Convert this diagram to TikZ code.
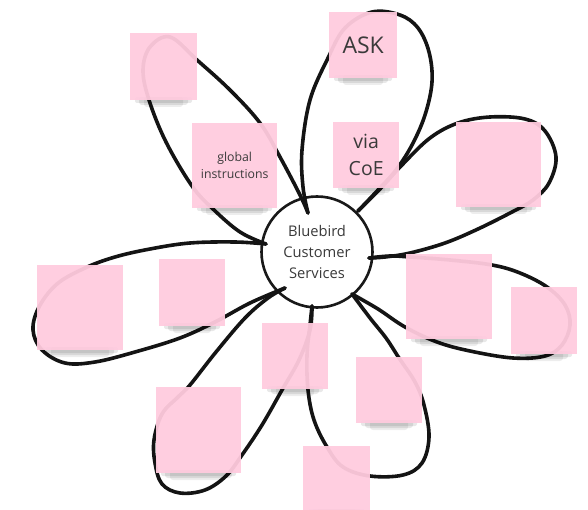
\documentclass[tikz,border=0pt]{standalone}
\usepackage{fontspec}
\setmainfont{Open Sans}
\usetikzlibrary{calc}
\definecolor{notepink}{RGB}{255,203,222}
\definecolor{inkgray}{RGB}{58,58,58}
\tikzset{
  loopline/.style={line width=3.6pt, line cap=round, line join=round, draw=black!92},
  notebox/.style={fill=notepink, fill opacity=0.95, text opacity=1, inner sep=0pt,
    anchor=north west, text=inkgray, align=center},
  hubcircle/.style={circle, draw=black!90, line width=2.6pt, fill=white,
    minimum size=111pt, inner sep=0pt, align=center, text=inkgray,
    font=\fontsize{14.7}{21}\selectfont},
}
% sticky note: name, left, top, width, height, font, contents
\newcommand{\stickynote}[7]{%
  \fill[black, opacity=0.09, rounded corners=2pt] ({#2+5},{#3+#5-3}) rectangle ({#2+#4-5},{#3+#5+3});
  \fill[black, opacity=0.09, rounded corners=3pt] ({#2+9},{#3+#5-3}) rectangle ({#2+#4-9},{#3+#5+5});
  \fill[black, opacity=0.07, rounded corners=3pt] ({#2+14},{#3+#5-3}) rectangle ({#2+#4-14},{#3+#5+7});
  \node[notebox, minimum width=#4pt, minimum height=#5pt, font=#6] (#1) at (#2,#3) {#7};
}
\begin{document}
\begin{tikzpicture}[x=1pt,y=-1pt]
\useasboundingbox (0,0) rectangle (588,510);

% central topic
\node[hubcircle] (hub) at (317,252) {Bluebird\\Customer\\Services};

% where the petals meet the hub
\coordinate (hW)  at (266,244);
\coordinate (hN)  at (308,213);
\coordinate (hNE) at (358,211);
\coordinate (hE)  at (369,258);
\coordinate (hSE) at (352,294);
\coordinate (hS)  at (312,306);
\coordinate (hSW) at (285,288);

% petal loops
\draw[loopline] plot[smooth, tension=0.6] coordinates {(hW) (240,232) (213,209) (192,186) (166,142) (149,100) (143,70) (150,47) (170,37) (197,60) (230,90) (260,123) (280,157) (300,195) (hN)};
\draw[loopline] plot[smooth, tension=0.6] coordinates {(hN) (303,187) (302,150) (310,100) (328,58) (345,28) (372,12) (400,15) (418,28) (429,52) (432,82) (425,115) (412,145) (396,170) (378,190) (hNE)};
\draw[loopline] plot[smooth, tension=0.6] coordinates {(hNE) (380,189) (402,165) (430,138) (458,123) (490,117) (525,119) (545,131) (556,157) (549,183) (533,200) (512,212) (478,229) (445,243) (410,253) (385,257) (hE)};
\draw[loopline] plot[smooth, tension=0.6] coordinates {(hE) (390,256) (410,257) (450,260) (492,265) (520,273) (547,287) (565,305) (570,325) (562,345) (545,356) (513,358) (470,351) (437,342) (405,327) (378,309) (hSE)};
\draw[loopline] plot[smooth, tension=0.6] coordinates {(hSE) (370,318) (386,338) (399,358) (415,382) (424,405) (429,437) (422,463) (403,475) (370,476) (343,467) (327,447) (314,420) (308,390) (307,355) (310,325) (hS)};
\draw[loopline] plot[smooth, tension=0.6] coordinates {(hS) (310,330) (299,360) (282,390) (262,425) (242,455) (226,476) (205,490) (180,493) (162,484) (155,463) (154,440) (162,414) (178,397) (190,385) (216,352) (245,318) (268,298) (hSW)};
\draw[loopline] plot[smooth, tension=0.6] coordinates {(hW) (235,242) (190,243) (150,249) (115,257) (85,268) (57,284) (39,307) (33,330) (42,350) (65,363) (95,362) (135,352) (180,338) (215,322) (250,303) (hSW)};

% sticky notes
\stickynote{n1}{130}{33}{67}{67}{}{}
\stickynote{n2}{192}{123}{85}{85}{\fontsize{12.3}{17}\selectfont}{global\\instructions}
\stickynote{n3}{329}{12}{68}{66}{\fontsize{23}{27}\selectfont}{ASK}
\stickynote{n4}{333}{122}{66}{66}{\fontsize{19.5}{27}\selectfont}{via\\CoE}
\stickynote{n5}{456}{122}{85}{85}{}{}
\stickynote{n6}{406}{254}{86}{85}{}{}
\stickynote{n7}{511}{287}{66}{67}{}{}
\stickynote{n8}{37}{265}{86}{85}{}{}
\stickynote{n9}{159}{259}{66}{67}{}{}
\stickynote{n10}{262}{323}{66}{66}{}{}
\stickynote{n11}{156}{387}{85}{86}{}{}
\stickynote{n12}{356}{357}{66}{66}{}{}
\stickynote{n13}{303}{446}{67}{66}{}{}
\end{tikzpicture}
\end{document}
